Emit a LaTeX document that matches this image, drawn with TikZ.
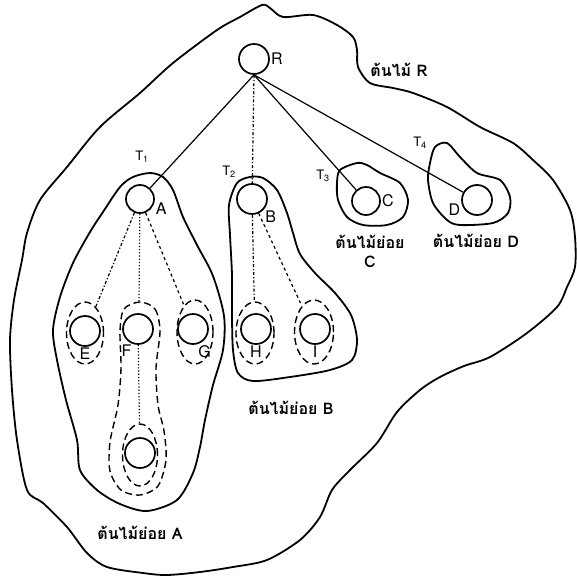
\documentclass[tikz,border=0pt]{standalone}
\usepackage{fontspec}
\setmainfont{TeX Gyre Heros}
\newfontfamily\thaifont[Script=Thai]{Loma}
\usetikzlibrary{shapes.geometric,positioning}

\begin{document}
\begin{tikzpicture}[x=1pt,y=-1pt,
  vtx/.style={draw,circle,line width=1.7pt,minimum size=30pt,inner sep=0pt},
  ring/.style={draw,ellipse,line width=1.4pt,dash pattern=on 7pt off 4pt,inner sep=0pt},
  blob/.style={line width=1.8pt},
  edge/.style={line width=1.2pt},
  tag/.style={font=\fontsize{16}{18}\selectfont,inner sep=1pt},
  ttag/.style={font=\fontsize{13}{15}\selectfont,inner sep=1pt},
  thai/.style={font=\thaifont\bfseries\fontsize{16}{19}\selectfont,align=center,inner sep=1pt}
]
\useasboundingbox (0,0) rectangle (577,578);

% vertices
\node[vtx,label={[tag]right:R}] (R) at (254,59) {};
\node[vtx,minimum size=28pt,label={[tag]-10:A}] (A) at (140,199) {};
\node[vtx,label={[tag]-40:B}] (B) at (252,199) {};
\node[vtx,minimum size=28pt,label={[tag]right:C}] (C) at (366,201) {};
\node[vtx,label={[tag]190:D}] (D) at (477,200) {};
\node[vtx,label={[tag]below:E}] (E) at (85,331) {};
\node[vtx,label={[tag]-110:F}] (F) at (138,329) {};
\node[vtx,label={[tag]-75:G}] (G) at (193,329) {};
\node[vtx,label={[tag]below:H}] (H) at (256,329) {};
\node[vtx,label={[tag]below:I}] (I) at (315,329) {};
\node[vtx] (K) at (140,453) {};

% dashed rings
\node[ring,minimum width=37pt,minimum height=62pt] (rE) at (85,333) {};
\node[ring,minimum width=36pt,minimum height=64pt] (rG) at (195,332) {};
\node[ring,minimum width=38pt,minimum height=62pt] (rH) at (255,333) {};
\node[ring,minimum width=39pt,minimum height=64pt] (rI) at (314,332) {};
\node[ring,minimum width=35pt,minimum height=62pt] (rK) at (140,455) {};
\draw[line width=1.4pt,dash pattern=on 7pt off 4pt] plot[smooth cycle] coordinates {
  (140,302) (155,309) (160,331) (156,368) (158,405) (164,431) (166,460)
  (158,486) (140,495) (121,490) (110,471) (110,442) (118,405) (121,368)
  (120,331) (124,309)};
\coordinate (rF) at (139,302);

% subtrees
\draw[blob] plot[smooth cycle] coordinates {
  (150,173) (163,177) (173,190) (183,217) (197,245) (213,276) (224,316)
  (223,350) (213,385) (205,420) (200,447) (193,473) (177,500) (147,511)
  (120,504) (97,490) (80,470) (77,440) (66,400) (57,360) (53,330)
  (60,297) (73,263) (90,232) (103,212) (120,187) (133,177)};
\draw[blob] plot[smooth cycle] coordinates {
  (237,183) (250,177) (263,178) (277,190) (287,213) (293,233) (300,254)
  (315,273) (335,293) (351,315) (357,340) (352,360) (330,370) (290,377)
  (253,381) (238,373) (233,350) (232,315) (232,275) (230,235) (229,205)};
\draw[blob] plot[smooth cycle] coordinates {
  (340,170) (357,163) (367,165) (380,173) (400,183) (408,200) (403,217)
  (387,225) (363,225) (347,217) (338,200) (337,183)};
\draw[blob] plot[smooth cycle] coordinates {
  (435,147) (447,143) (460,157) (477,173) (500,180) (510,197) (508,213)
  (493,223) (460,225) (447,220) (433,203) (428,180) (430,163)};

% whole tree
\draw[blob] plot[smooth cycle,tension=0.5] coordinates {
  (262,5) (270,8) (283,17) (313,15) (337,25) (353,37) (357,50) (358,67)
  (370,83) (393,88) (413,93) (447,107) (480,127) (513,143) (533,160)
  (553,180) (570,210) (575,237) (575,267) (567,287) (557,307) (527,333)
  (490,357) (464,366) (440,377) (420,390) (397,412) (377,443) (350,470)
  (332,490) (320,517) (300,540) (267,560) (233,567) (200,572) (167,575)
  (143,573) (107,567) (87,553) (67,527) (43,503) (27,490) (17,440)
  (12,390) (10,340) (14,300) (22,260) (27,233) (40,200) (67,167)
  (100,127) (140,93) (173,63) (217,30) (240,17)};

% edges
\draw[edge] (R.south) -- (A);
\draw[edge,dash dot] (R.south) -- (B);
\draw[edge] (R.south) -- (C);
\draw[edge] (R.south) -- (D);
\draw[edge,dash dot] (A) -- (rE);
\draw[edge,dotted] (A) -- (rF);
\draw[edge,dashed] (A) -- (rG);
\draw[edge,dash dot] (B) -- (rH);
\draw[edge,dashed] (B) -- (rI);
\draw[edge,dotted] (F) -- (rK);

% subtree names
\node[ttag] (t1) at (142,157) {T\textsubscript{1}};
\node[ttag] (t2) at (229,172) {T\textsubscript{2}};
\node[ttag] (t3) at (323,176) {T\textsubscript{3}};
\node[ttag] (t4) at (420,143) {T\textsubscript{4}};

\node[thai] (nR) at (399,70) {ต้นไม้ R};
\node[thai] (nA) at (140,533) {ต้นไม้ย่อย A};
\node[thai] (nB) at (291,408) {ต้นไม้ย่อย B};
\node[thai] (nC) at (370,251) {ต้นไม้ย่อย\\C};
\node[thai] (nD) at (476,241) {ต้นไม้ย่อย D};
\end{tikzpicture}
\end{document}
